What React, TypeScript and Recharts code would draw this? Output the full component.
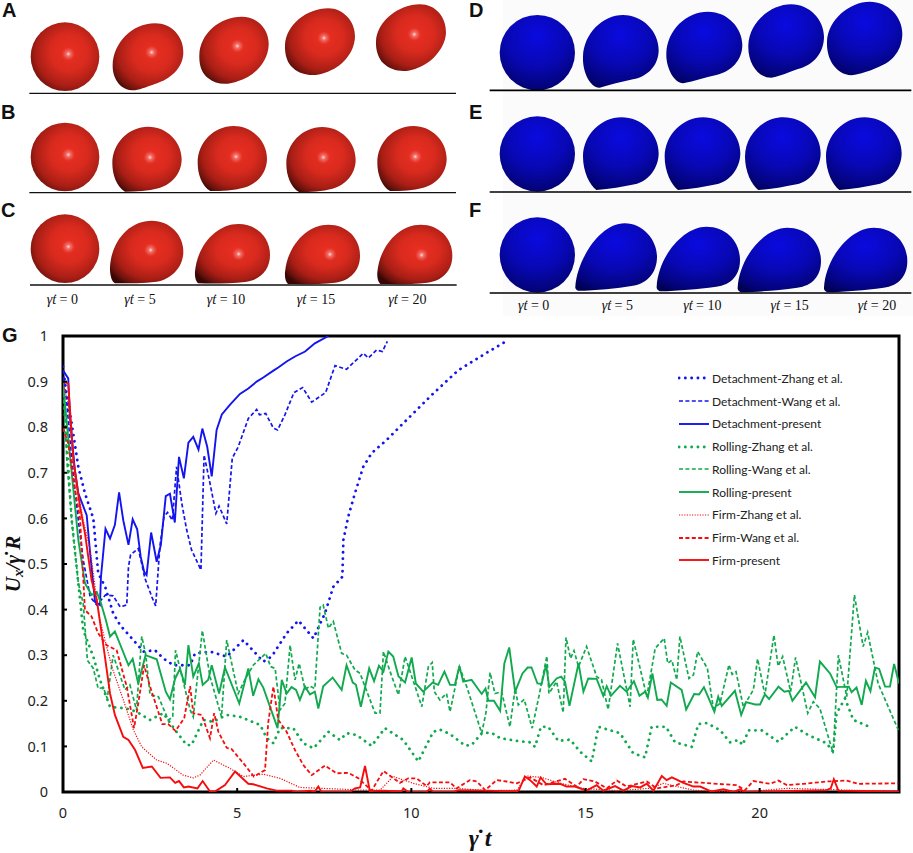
import React from "react";
import {
  LineChart,
  Line,
  XAxis,
  YAxis,
  Legend,
  ReferenceArea,
} from "recharts";

const xTicks = [0, 5, 10, 15, 20];
const yTicks = [0, 0.1, 0.2, 0.3, 0.4, 0.5, 0.6, 0.7, 0.8, 0.9, 1];

// series values, [time, velocity]
const detachmentZhang = [
  [0, 0.933], [0.1, 0.874], [0.25, 0.808], [0.44, 0.713], [0.63, 0.655], [0.87, 0.6], [1.01, 0.48], [1.21, 0.45],
  [1.44, 0.392], [1.64, 0.366], [2.02, 0.333], [2.31, 0.308], [2.64, 0.311], [2.88, 0.293], [3.17, 0.278], [3.65, 0.278],
  [3.79, 0.304], [4.22, 0.308], [4.7, 0.297], [5.18, 0.333], [5.75, 0.286], [5.99, 0.297], [6.42, 0.348], [6.76, 0.376],
  [7.19, 0.337], [7.52, 0.392], [7.76, 0.45], [8.02, 0.472], [8.05, 0.553], [8.19, 0.604], [8.38, 0.655], [8.62, 0.713],
  [8.86, 0.743], [9.29, 0.772], [10.01, 0.827], [10.63, 0.874], [11.35, 0.925], [12.2, 0.965], [12.78, 0.991],
];
const detachmentWang = [
  [0, 0.925], [0.11, 0.852], [0.25, 0.728], [0.44, 0.596], [0.58, 0.509], [0.78, 0.428], [0.97, 0.41], [1.22, 0.432],
  [1.44, 0.43], [1.64, 0.406], [1.83, 0.41], [1.88, 0.494], [1.94, 0.52], [2.16, 0.534], [2.26, 0.501], [2.35, 0.469],
  [2.55, 0.428], [2.66, 0.408], [2.78, 0.538], [2.9, 0.604], [3.0, 0.613], [3.14, 0.596], [3.26, 0.713], [3.41, 0.633],
  [3.55, 0.575], [3.69, 0.531], [3.96, 0.487], [4.05, 0.739], [4.22, 0.677], [4.39, 0.611], [4.48, 0.627], [4.7, 0.588],
  [4.86, 0.732], [5.03, 0.757], [5.32, 0.819], [5.56, 0.839], [5.64, 0.827], [5.82, 0.83], [6.04, 0.798], [6.16, 0.794],
  [6.37, 0.827], [6.63, 0.876], [6.88, 0.887], [7.14, 0.855], [7.54, 0.876], [7.81, 0.935], [8.14, 0.927], [8.62, 0.962],
  [8.77, 0.952], [9.0, 0.969], [9.17, 0.966], [9.31, 0.988],
];
const detachmentPresent = [
  [0, 0.925], [0.15, 0.907], [0.2, 0.823], [0.34, 0.706], [0.44, 0.655], [0.68, 0.607], [0.78, 0.523], [0.92, 0.417],
  [1.06, 0.41], [1.09, 0.472], [1.22, 0.577], [1.35, 0.556], [1.49, 0.586], [1.61, 0.657], [1.73, 0.596], [1.88, 0.542],
  [2.0, 0.598], [2.13, 0.576], [2.23, 0.516], [2.33, 0.483], [2.4, 0.476], [2.53, 0.569], [2.69, 0.505], [2.81, 0.542],
  [2.95, 0.649], [3.07, 0.654], [3.21, 0.591], [3.33, 0.735], [3.47, 0.688], [3.6, 0.766], [3.74, 0.779], [3.89, 0.751],
  [4.0, 0.797], [4.14, 0.757], [4.27, 0.692], [4.41, 0.794], [4.56, 0.828], [4.79, 0.849], [5.08, 0.873], [5.32, 0.885],
  [5.56, 0.9], [5.75, 0.909], [6.04, 0.924], [6.18, 0.931], [6.42, 0.944], [6.66, 0.955], [6.95, 0.966], [7.23, 0.984],
  [7.62, 1.0],
];
const rollingZhang = [
  [0, 0.896], [0.25, 0.596], [0.39, 0.494], [0.58, 0.355], [0.87, 0.297], [1.06, 0.246], [1.35, 0.187], [1.83, 0.183],
  [2.11, 0.176], [2.5, 0.158], [2.88, 0.173], [3.22, 0.136], [3.55, 0.103], [3.69, 0.103], [4.03, 0.158], [4.32, 0.154],
  [4.51, 0.162], [4.7, 0.169], [5.08, 0.165], [5.66, 0.147], [5.85, 0.118], [6.04, 0.107], [6.23, 0.14], [6.61, 0.14],
  [6.9, 0.107], [7.19, 0.096], [7.62, 0.132], [7.95, 0.114], [8.14, 0.129], [8.43, 0.125], [8.86, 0.101], [9.24, 0.14],
  [9.77, 0.114], [10.2, 0.067], [10.63, 0.132], [10.82, 0.137], [11.11, 0.127], [11.54, 0.102], [11.73, 0.103], [12.02, 0.129],
  [12.3, 0.13], [12.55, 0.118], [13.03, 0.112], [13.41, 0.109], [13.55, 0.099], [13.72, 0.143], [13.93, 0.143], [14.22, 0.112],
  [14.56, 0.115], [14.85, 0.088], [15.18, 0.067], [15.37, 0.143], [15.99, 0.129], [16.37, 0.085], [16.71, 0.076], [16.9, 0.143],
  [17.31, 0.143], [17.57, 0.109], [18.05, 0.099], [18.24, 0.149], [18.48, 0.151], [18.86, 0.136], [19.15, 0.109], [19.39, 0.114],
  [19.51, 0.103], [19.68, 0.135], [20.06, 0.135], [20.54, 0.11], [21.01, 0.143], [21.39, 0.125], [21.92, 0.107], [22.11, 0.088],
  [22.21, 0.173], [22.45, 0.205], [22.69, 0.158], [23.15, 0.143],
];
const rollingWang = [
  [0, 0.903], [0.11, 0.728], [0.25, 0.596], [0.44, 0.458], [0.58, 0.414], [0.63, 0.363], [0.7, 0.289], [0.87, 0.271],
  [1.01, 0.227], [1.16, 0.229], [1.27, 0.205], [1.44, 0.3], [1.78, 0.224], [1.92, 0.235], [2.11, 0.18], [2.26, 0.341],
  [2.37, 0.304], [2.5, 0.213], [2.74, 0.209], [3.02, 0.158], [3.15, 0.164], [3.23, 0.311], [3.65, 0.18], [3.74, 0.165],
  [4.0, 0.354], [4.22, 0.253], [4.55, 0.165], [4.7, 0.333], [5.03, 0.216], [5.22, 0.246], [5.46, 0.278], [5.82, 0.304],
  [5.96, 0.275], [6.09, 0.271], [6.23, 0.18], [6.37, 0.194], [6.52, 0.322], [6.66, 0.246], [6.78, 0.282], [6.95, 0.225],
  [7.09, 0.232], [7.23, 0.227], [7.38, 0.405], [7.47, 0.41], [7.62, 0.359], [7.76, 0.374], [8.0, 0.304], [8.14, 0.3],
  [8.38, 0.268], [8.53, 0.26], [8.67, 0.231], [8.96, 0.173], [9.1, 0.173], [9.2, 0.308], [9.39, 0.264], [9.63, 0.213],
  [9.82, 0.297], [10.11, 0.231], [10.3, 0.187], [10.49, 0.275], [10.6, 0.284], [10.66, 0.22], [10.82, 0.202], [11.01, 0.216],
  [11.11, 0.176], [11.38, 0.275], [11.59, 0.231], [12.02, 0.129], [12.14, 0.173], [12.26, 0.262], [12.4, 0.216], [12.59, 0.22],
  [12.83, 0.143], [12.98, 0.227], [13.07, 0.191], [13.24, 0.203], [13.47, 0.14], [13.68, 0.216], [13.89, 0.298], [13.95, 0.216],
  [14.17, 0.242], [14.36, 0.174], [14.44, 0.339], [14.57, 0.293], [14.67, 0.31], [14.8, 0.275], [15.03, 0.319], [15.32, 0.253],
  [15.46, 0.246], [15.65, 0.181], [15.92, 0.326], [16.28, 0.187], [16.37, 0.335], [16.76, 0.209], [17.0, 0.315], [17.26, 0.337],
  [17.36, 0.282], [17.48, 0.289], [17.62, 0.246], [17.71, 0.341], [17.97, 0.249], [18.1, 0.257], [18.22, 0.308], [18.5, 0.271],
  [18.67, 0.183], [18.86, 0.194], [19.12, 0.279], [19.21, 0.258], [19.32, 0.264], [19.53, 0.187], [19.82, 0.224], [19.94, 0.292],
  [20.15, 0.213], [20.41, 0.344], [20.53, 0.276], [20.66, 0.297], [20.89, 0.22], [21.03, 0.295], [21.38, 0.173], [21.54, 0.198],
  [21.73, 0.183], [22.11, 0.085], [22.26, 0.3], [22.5, 0.209], [22.72, 0.432], [22.97, 0.319], [23.1, 0.35], [23.4, 0.238],
  [23.98, 0.136],
];
const rollingPresent = [
  [0, 0.896], [0.1, 0.816], [0.44, 0.553], [0.63, 0.458], [0.82, 0.432], [0.97, 0.439], [1.09, 0.414], [1.23, 0.377],
  [1.35, 0.341], [1.49, 0.352], [1.88, 0.278], [2.0, 0.292], [2.16, 0.238], [2.37, 0.3], [2.69, 0.291], [2.95, 0.22],
  [3.07, 0.203], [3.22, 0.249], [3.36, 0.27], [3.5, 0.235], [3.6, 0.322], [3.74, 0.253], [3.9, 0.282], [4.01, 0.235],
  [4.17, 0.246], [4.27, 0.278], [4.48, 0.216], [4.65, 0.273], [5.06, 0.194], [5.32, 0.271], [5.46, 0.211], [5.61, 0.247],
  [5.75, 0.229], [6.16, 0.14], [6.28, 0.246], [6.42, 0.216], [6.56, 0.23], [6.69, 0.224], [6.8, 0.202], [6.95, 0.231],
  [7.09, 0.214], [7.23, 0.22], [7.33, 0.183], [7.47, 0.232], [7.74, 0.251], [8.0, 0.224], [8.14, 0.278], [8.32, 0.24],
  [8.41, 0.235], [8.55, 0.187], [8.79, 0.271], [8.93, 0.243], [9.07, 0.277], [9.2, 0.264], [9.34, 0.308], [9.48, 0.297],
  [9.63, 0.254], [9.82, 0.24], [10.01, 0.295], [10.13, 0.238], [10.34, 0.22], [10.61, 0.24], [10.77, 0.235], [10.95, 0.264],
  [11.11, 0.235], [11.25, 0.235], [11.38, 0.276], [11.49, 0.242], [11.73, 0.246], [12.02, 0.215], [12.13, 0.227], [12.21, 0.2],
  [12.37, 0.2], [12.55, 0.178], [12.67, 0.282], [12.81, 0.317], [12.98, 0.22], [13.19, 0.26], [13.34, 0.273], [13.45, 0.273],
  [13.62, 0.238], [13.74, 0.237], [13.87, 0.279], [13.96, 0.23], [14.17, 0.249], [14.3, 0.253], [14.41, 0.242], [14.54, 0.189],
  [14.8, 0.282], [14.94, 0.22], [15.08, 0.249], [15.32, 0.248], [15.51, 0.211], [15.61, 0.232], [15.73, 0.211], [15.99, 0.233],
  [16.18, 0.22], [16.39, 0.243], [16.55, 0.211], [16.71, 0.22], [16.79, 0.207], [16.92, 0.26], [17.06, 0.202], [17.18, 0.203],
  [17.33, 0.189], [17.45, 0.24], [17.76, 0.224], [17.89, 0.181], [18.12, 0.215], [18.26, 0.214], [18.4, 0.23], [18.7, 0.176],
  [18.81, 0.209], [18.91, 0.189], [19.29, 0.222], [19.47, 0.169], [19.61, 0.197], [19.87, 0.192], [20.01, 0.192], [20.15, 0.214],
  [20.27, 0.204], [20.54, 0.231], [20.71, 0.22], [20.84, 0.222], [20.94, 0.2], [21.33, 0.24], [21.59, 0.208], [21.73, 0.286],
  [22.02, 0.26], [22.21, 0.23], [22.56, 0.231], [22.64, 0.219], [22.78, 0.229], [22.93, 0.191], [23.05, 0.244], [23.18, 0.221],
  [23.31, 0.273], [23.43, 0.27], [23.6, 0.231], [23.74, 0.231], [23.86, 0.281], [24.0, 0.238],
];
const firmZhang = [
  [0, 0.896], [0.15, 0.852], [0.34, 0.692], [0.58, 0.596], [0.78, 0.531], [0.92, 0.45], [1.06, 0.377], [1.4, 0.275],
  [1.73, 0.202], [2.02, 0.136], [2.26, 0.099], [2.69, 0.07], [2.98, 0.063], [3.45, 0.037], [3.74, 0.031], [3.93, 0.037],
  [4.32, 0.07], [4.79, 0.052], [5.18, 0.034], [5.75, 0.039], [6.23, 0.03], [6.8, 0.01], [7.76, 0.007], [8.62, 0.004],
  [9.1, 0.004], [9.48, 0.034], [10.06, 0.019], [10.63, 0.008], [11.3, 0.008], [12.16, 0.003], [13.03, 0.004], [13.31, 0.035],
  [13.74, 0.032], [14.27, 0.019], [14.94, 0.008], [15.9, 0.003], [16.85, 0.008], [17.24, 0.019], [17.62, 0.012], [18.1, 0.004],
  [18.77, 0.001], [19.73, 0.001], [20.78, 0.008], [22.6, 0.004], [23.93, 0.001],
];
const firmWang = [
  [0, 0.798], [0.15, 0.765], [0.3, 0.684], [0.49, 0.6], [0.63, 0.399], [0.82, 0.385], [1.01, 0.348], [1.25, 0.322],
  [1.54, 0.311], [1.83, 0.231], [2.04, 0.14], [2.16, 0.194], [2.33, 0.278], [2.5, 0.231], [2.85, 0.149], [3.02, 0.149],
  [3.23, 0.134], [3.48, 0.162], [3.65, 0.232], [3.74, 0.173], [3.98, 0.169], [4.22, 0.118], [4.34, 0.173], [4.46, 0.132],
  [4.7, 0.097], [4.84, 0.094], [5.18, 0.063], [5.48, 0.034], [5.8, 0.048], [5.89, 0.151], [6.04, 0.231], [6.18, 0.158],
  [6.42, 0.132], [6.66, 0.092], [6.9, 0.059], [7.14, 0.037], [7.52, 0.058], [7.85, 0.041], [8.19, 0.042], [8.48, 0.03],
  [8.86, 0.003], [9.2, 0.046], [9.67, 0.02], [9.91, 0.03], [10.15, 0.03], [10.44, 0.013], [10.53, 0.021], [11.11, 0.021],
  [11.3, 0.008], [11.68, 0.026], [11.88, 0.023], [12.12, 0.004], [12.45, 0.026], [12.74, 0.023], [13.03, 0.019], [13.41, 0.032],
  [13.79, 0.015], [14.41, 0.029], [14.75, 0.012], [14.94, 0.028], [15.27, 0.023], [15.61, 0.008], [15.9, 0.025], [16.18, 0.012],
  [16.76, 0.023], [17.05, 0.008], [17.62, 0.015], [17.81, 0.023], [18.77, 0.018], [19.34, 0.015], [19.58, 0.004], [19.82, 0.024],
  [20.3, 0.018], [20.54, 0.025], [20.78, 0.015], [21.26, 0.018], [21.92, 0.023], [22.5, 0.025], [22.83, 0.018], [23.98, 0.019],
];
const firmPresent = [
  [0, 0.9], [0.15, 0.896], [0.3, 0.728], [0.49, 0.625], [0.63, 0.567], [0.82, 0.465], [0.97, 0.421], [1.11, 0.348],
  [1.35, 0.216], [1.49, 0.169], [1.73, 0.121], [1.88, 0.114], [2.07, 0.092], [2.29, 0.053], [2.55, 0.056], [2.8, 0.031],
  [3.07, 0.032], [3.22, 0.02], [3.33, 0.024], [3.47, 0.01], [3.6, 0.012], [3.86, 0.008], [4.01, 0.024], [4.22, 0.001],
  [4.36, 0.001], [4.65, 0.015], [4.94, 0.045], [5.32, 0.018], [5.46, 0.017], [5.85, 0.008], [6.13, 0.003], [6.56, 0.003],
  [6.71, 0], [7.09, 0.003], [7.23, 0.001], [7.33, 0.012], [7.42, 0], [8.24, 0], [8.38, 0.008], [8.53, 0.01],
  [8.67, 0.057], [8.81, 0.002], [9.2, 0.003], [9.72, 0.001], [9.77, 0.008], [9.91, 0], [10.44, 0], [10.53, 0.007],
  [10.63, 0], [11.2, 0], [11.35, 0.004], [12.21, 0.003], [13.02, 0.001], [13.09, 0.004], [13.26, 0.034], [13.41, 0.026],
  [13.6, 0.012], [13.71, 0.032], [13.88, 0.017], [14.27, 0.018], [14.46, 0.012], [14.7, 0.012], [15.03, 0.003], [15.32, 0.015],
  [15.51, 0.003], [15.85, 0.013], [16.09, 0.003], [16.33, 0.013], [16.57, 0.01], [16.76, 0.018], [16.95, 0.003], [17.19, 0.035],
  [17.33, 0.026], [17.48, 0.032], [17.81, 0.02], [18.1, 0.012], [18.29, 0.012], [18.62, 0.001], [18.96, 0.006], [19.25, 0],
  [19.44, 0.006], [19.58, 0], [21.92, 0.004], [22.04, 0.008], [22.13, 0.028], [22.26, 0.003], [24, 0.001],
];

const BLUE = "#1414ee";
const GREEN = "#10a94e";
const RED = "#f50d0d";

const seriesList = [
  { name: "Detachment-Zhang et al.", values: detachmentZhang, color: BLUE, width: 2.8, dash: "0.1 6.2", cap: "round" },
  { name: "Detachment-Wang et al.", values: detachmentWang, color: BLUE, width: 1.7, dash: "4 2.4", cap: "butt" },
  { name: "Detachment-present", values: detachmentPresent, color: BLUE, width: 1.9, dash: undefined, cap: "butt" },
  { name: "Rolling-Zhang et al.", values: rollingZhang, color: GREEN, width: 2.8, dash: "0.1 6.2", cap: "round" },
  { name: "Rolling-Wang et al.", values: rollingWang, color: GREEN, width: 1.7, dash: "4 2.4", cap: "butt" },
  { name: "Rolling-present", values: rollingPresent, color: GREEN, width: 1.9, dash: undefined, cap: "butt" },
  { name: "Firm-Zhang et al.", values: firmZhang, color: RED, width: 1.2, dash: "1.2 1.4", cap: "butt" },
  { name: "Firm-Wang et al.", values: firmWang, color: RED, width: 1.8, dash: "4 2.4", cap: "butt" },
  { name: "Firm-present", values: firmPresent, color: RED, width: 1.9, dash: undefined, cap: "butt" },
];

const toRows = (pairs: number[][]) => pairs.map(([x, y]) => ({ x, y }));

// droplet outlines, traced at 3x so the numbers stay readable
const circle = (cx: number, cy: number, r: number) =>
  `M${cx - r} ${cy}a${r} ${r} 0 1 0 ${2 * r} 0a${r} ${r} 0 1 0 ${-2 * r} 0Z`;

const redB = "M337 490C337 430 385 380 445 380C500 380 545 425 545 478C545 520 515 555 475 565C445 573 410 575 375 575C350 560 337 525 337 490Z";
const redC = "M585 815C592 735 650 672 715 672C770 672 810 712 810 765C810 808 782 840 735 846C690 851 640 851 595 850C587 845 584 830 585 815Z";
const redDrops = [
  { d: circle(195, 170, 103), hx: 205, hy: 162 },
  { d: "M338 195C340 130 395 70 465 70C515 70 552 110 550 160C548 205 512 238 465 252C435 262 415 272 395 271C360 268 337 235 338 195Z", hx: 455, hy: 157 },
  { d: "M598 165C600 100 660 50 725 50C775 50 808 90 806 135C804 185 765 228 715 243C685 255 650 256 625 235C605 220 597 195 598 165Z", hx: 712, hy: 138 },
  { d: "M855 135C858 75 920 25 985 25C1030 25 1066 65 1065 110C1063 160 1025 202 975 218C945 230 905 228 880 205C862 190 854 165 855 135Z", hx: 972, hy: 114 },
  { d: "M1128 125C1130 65 1195 13 1260 13C1305 13 1340 50 1338 100C1335 145 1295 192 1245 207C1215 218 1175 215 1150 190C1135 175 1127 150 1128 125Z", hx: 1243, hy: 103 },
  { d: circle(195, 471, 103), hx: 205, hy: 464 },
  { d: redB, hx: 450, hy: 472 },
  { d: redB, dx: 256, dy: -2, hx: 708, hy: 470 },
  { d: redB, dx: 522, dy: 1, hx: 970, hy: 472 },
  { d: redB, dx: 795, dy: -2, hx: 1246, hy: 470 },
  { d: circle(195, 746, 103), hx: 205, hy: 740 },
  { d: "M330 800C335 720 390 662 455 662C510 662 550 705 550 755C550 800 515 838 470 845C430 850 390 850 345 850C335 845 329 825 330 800Z", hx: 452, hy: 750 },
  { d: redC, hx: 716, hy: 762 },
  { d: redC, dx: 270, dy: 2, hx: 990, hy: 763 },
  { d: redC, dx: 547, dy: 2, hx: 1265, hy: 765 },
];

const blueE = "M390 470C390 405 445 352 505 352C565 352 617 400 617 460C617 505 585 545 545 553C510 560 470 568 430 570C410 555 390 515 390 470Z";
const blueF = "M611 860C616 770 690 680 760 680C820 680 861 725 861 780C861 825 835 855 790 860C730 868 680 872 620 874C613 870 610 865 611 860Z";
const blueDrops = [
  { d: circle(253, 158, 113) },
  { d: "M390 170C392 100 450 45 510 45C570 45 617 95 617 150C617 195 585 230 540 238C505 245 470 255 440 263C415 265 388 220 390 170Z" },
  { d: "M640 160C642 90 700 35 765 35C825 35 868 85 868 135C868 180 835 215 790 225C755 233 725 243 690 250C665 250 638 205 640 160Z" },
  { d: "M886 135C888 70 950 13 1015 13C1070 13 1113 60 1113 110C1113 160 1080 195 1035 207C1005 217 985 228 955 233C915 233 884 190 886 135Z" },
  { d: "M1122 125C1124 60 1190 5 1250 5C1305 5 1348 50 1348 100C1348 150 1320 185 1275 202C1245 215 1225 222 1195 226C1150 222 1120 180 1122 125Z" },
  { d: circle(253, 462, 113) },
  { d: blueE },
  { d: blueE, dx: 245 },
  { d: blueE, dx: 486 },
  { d: blueE, dx: 729 },
  { d: circle(253, 765, 113) },
  { d: "M367 860C372 780 440 670 515 670C570 670 612 720 612 770C612 815 585 850 540 857C490 865 430 872 375 872C369 870 366 865 367 860Z" },
  { d: blueF },
  { d: blueF, dx: 243, dy: 3 },
  { d: blueF, dx: 502, dy: 3 },
];

const timeLabels = ["0", "5", "10", "15", "20"];
const redLabelX = [187, 420, 678, 948, 1222];
const blueLabelX = [242, 493, 748, 1010, 1272];

const serif = "'Liberation Serif', serif";
const sans = "'Liberation Sans', sans-serif";

function Dot({ x, y }: { x: number; y: number }) {
  return <circle cx={x} cy={y} r={20} fill="url(#shine)" />;
}

function TimeLabel({ x, y, value }: { x: number; y: number; value: string }) {
  return (
    <text x={x} y={y} textAnchor="middle" fontFamily={serif} fontSize={14} fill="#111">
      <tspan fontStyle="italic">{"\u03B3\u0307t"}</tspan> = {value}
    </text>
  );
}

function Illustrations() {
  return (
    <svg width={913} height={853} style={{ position: "absolute", left: 0, top: 0 }}>
      <defs>
        <radialGradient id="redBall" cx="0.56" cy="0.44" r="0.68">
          <stop offset="0" stopColor="#ea2f22" />
          <stop offset="0.4" stopColor="#d92a1e" />
          <stop offset="0.72" stopColor="#a81e15" />
          <stop offset="0.9" stopColor="#6a120c" />
          <stop offset="1" stopColor="#380705" />
        </radialGradient>
        <radialGradient id="blueBall" cx="0.5" cy="0.28" r="0.8">
          <stop offset="0" stopColor="#0a0ae0" />
          <stop offset="0.5" stopColor="#0808b4" />
          <stop offset="0.85" stopColor="#03037c" />
          <stop offset="1" stopColor="#000052" />
        </radialGradient>
        <radialGradient id="shine">
          <stop offset="0" stopColor="#fff" stopOpacity="0.9" />
          <stop offset="0.3" stopColor="#fcc" stopOpacity="0.45" />
          <stop offset="1" stopColor="#f88" stopOpacity="0" />
        </radialGradient>
      </defs>

      <rect x={503} y={0} width={410} height={316} fill="#fbfbfb" />

      <g transform="scale(0.33333)">
        {redDrops.map((p, i) => (
          <path key={i} d={p.d} transform={`translate(${p.dx || 0} ${p.dy || 0})`} fill="url(#redBall)" />
        ))}
        {redDrops.map((p, i) => (
          <Dot key={i} x={p.hx} y={p.hy} />
        ))}
        <line x1={88} x2={1368} y1={280} y2={280} stroke="#111" strokeWidth={4} />
        <line x1={88} x2={1368} y1={578} y2={578} stroke="#111" strokeWidth={4} />
        <line x1={90} x2={1370} y1={855} y2={855} stroke="#111" strokeWidth={4} />
      </g>

      <g transform="translate(453 0) scale(0.33333)">
        {blueDrops.map((p, i) => (
          <path key={i} d={p.d} transform={`translate(${p.dx || 0} ${p.dy || 0})`} fill="url(#blueBall)" />
        ))}
        <line x1={110} x2={1375} y1={271} y2={271} stroke="#000" strokeWidth={5} />
        <line x1={110} x2={1375} y1={576} y2={576} stroke="#000" strokeWidth={5} />
        <line x1={110} x2={1375} y1={879} y2={879} stroke="#000" strokeWidth={5} />
      </g>

      {timeLabels.map((t, i) => (
        <TimeLabel key={t} x={redLabelX[i] / 3} y={304} value={t} />
      ))}
      {timeLabels.map((t, i) => (
        <TimeLabel key={t} x={453 + blueLabelX[i] / 3} y={310} value={t} />
      ))}

      <g fontFamily={sans} fontWeight="bold" fontSize={20} fill="#111">
        <text x={2} y={17}>A</text>
        <text x={1} y={119}>B</text>
        <text x={1} y={217}>C</text>
        <text x={469} y={17}>D</text>
        <text x={469} y={119}>E</text>
        <text x={469} y={217}>F</text>
        <text x={2} y={342}>G</text>
      </g>

      <g fontFamily={serif} fontWeight="bold" fontStyle="italic" fill="#111">
        <text transform="translate(20 564) rotate(-90)" textAnchor="middle" fontSize={21}>
          U<tspan fontSize={15} dy={3}>x</tspan>
          <tspan dy={-3}>{"/\u03B3\u0307 R"}</tspan>
        </text>
        <text x={480} y={846} textAnchor="middle" fontSize={24}>{"\u03B3\u0307 t"}</text>
      </g>
    </svg>
  );
}

function LegendRows({ payload }: any) {
  return (
    <div>
      {(payload || []).map((entry: any) => {
        const s = seriesList.find((item) => item.name === entry.value);
        return (
          <div key={entry.value} style={{ display: "flex", alignItems: "center", height: 22.75 }}>
            <svg width={34} height={6}>
              <line
                x1={1}
                x2={31}
                y1={3}
                y2={3}
                stroke={entry.color}
                strokeWidth={s?.width}
                strokeDasharray={s?.dash}
                strokeLinecap={s?.cap as any}
              />
            </svg>
            <span style={{ fontFamily: "Lato", fontSize: 12, color: "#222", whiteSpace: "nowrap" }}>{entry.value}</span>
          </div>
        );
      })}
    </div>
  );
}

export default function App() {
  const tickStyle = { fontFamily: "'Noto Sans'", fontSize: 14.5, fill: "#222" };
  return (
    <div style={{ position: "absolute", left: 0, top: 0, width: 913, height: 853, background: "#fff", overflow: "hidden" }}>
      <Illustrations />
      <div style={{ position: "absolute", left: 0, top: 0 }}>
        <LineChart width={913} height={853} margin={{ top: 336, right: 14, bottom: 0, left: 0 }}>
          <XAxis
            dataKey="x"
            type="number"
            domain={[0, 24]}
            ticks={xTicks}
            height={61}
            allowDataOverflow
            axisLine={false}
            tickSize={-4}
            tickMargin={20}
            tickLine={{ stroke: "#000", strokeWidth: 2 }}
            tick={tickStyle}
          />
          <YAxis
            dataKey="y"
            type="number"
            domain={[0, 1]}
            ticks={yTicks}
            width={63}
            allowDataOverflow
            axisLine={false}
            tickSize={-4}
            tickMargin={19}
            tickLine={{ stroke: "#000", strokeWidth: 2 }}
            tick={tickStyle}
          />
          <Legend
            layout="vertical"
            align="center"
            verticalAlign="middle"
            itemSorter={null}
            content={<LegendRows />}
            wrapperStyle={{ left: 678, top: 367, width: 190 }}
          />
          {seriesList.map((s) => (
            <Line
              key={s.name}
              name={s.name}
              data={toRows(s.values)}
              dataKey="y"
              type="linear"
              stroke={s.color}
              strokeWidth={s.width}
              strokeDasharray={s.dash}
              strokeLinecap={s.cap as any}
              dot={false}
              activeDot={false}
              isAnimationActive={false}
            />
          ))}
          <ReferenceArea x1={0} x2={24} y1={0} y2={1} fill="none" stroke="#000" strokeWidth={3} ifOverflow="visible" />
        </LineChart>
      </div>
    </div>
  );
}
